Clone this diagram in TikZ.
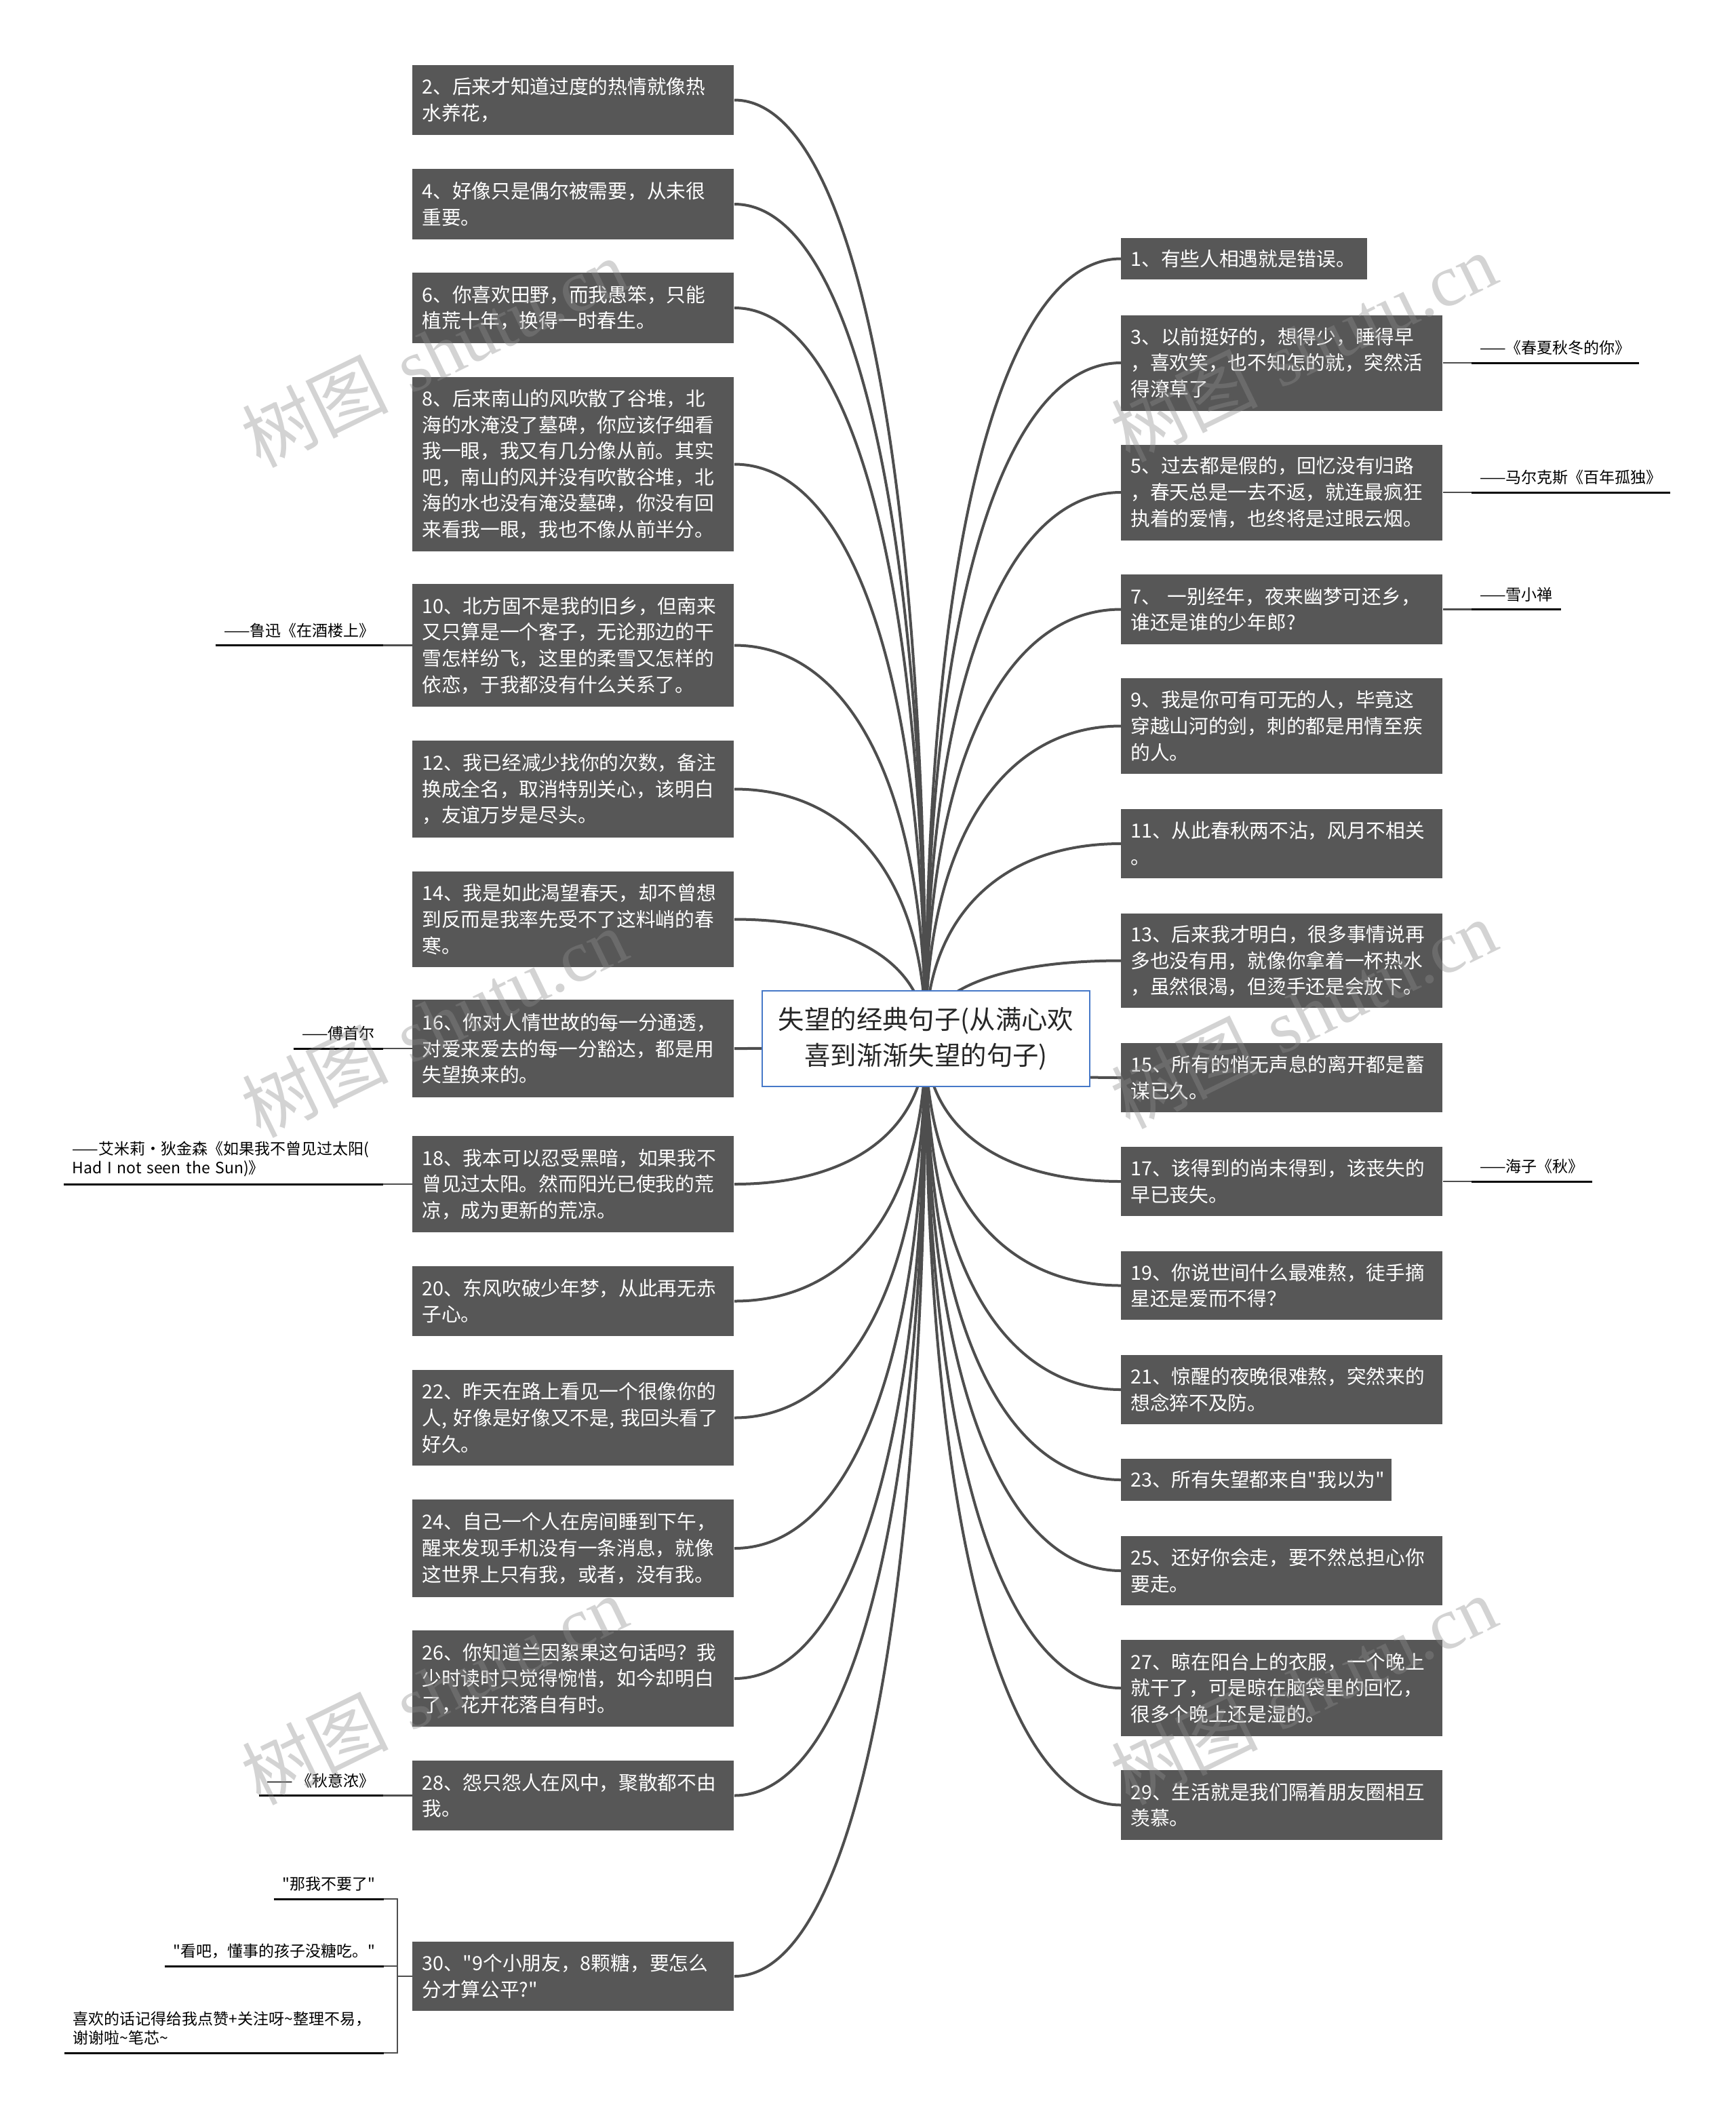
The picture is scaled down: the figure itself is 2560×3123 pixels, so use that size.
\documentclass[tikz,border=0pt]{standalone}
\usepackage{fontspec}
\newfontfamily\cjk{Noto Sans CJK SC}
\newfontfamily\wmlatin{Liberation Serif}
\usetikzlibrary{calc}
\definecolor{boxgray}{RGB}{87,87,87}
\definecolor{linegray}{RGB}{78,78,78}
\definecolor{rootblue}{RGB}{70,120,200}
\definecolor{roottext}{RGB}{38,38,38}
\definecolor{wmgray}{RGB}{140,140,140}
\tikzset{
  qbox/.style={fill=boxgray, text=white, align=left, inner xsep=7pt, inner ysep=0pt, font=\cjk\fontsize{14.35}{19.3}\selectfont, text width=223pt, anchor=west},
  hh/.style={minimum height=#1*0.5pt},
  rootnode/.style={draw=rootblue, line width=1pt, fill=white, text=roottext, align=center, minimum width=241.5pt, minimum height=70.5pt, inner sep=0pt, font=\cjk\fontsize{19.2}{26.5}\selectfont},
  conn/.style={draw=linegray, line width=2pt},
  cconn/.style={draw=linegray, line width=1.2pt},
  uline/.style={draw=black, line width=1.5pt},
  cnote/.style={inner xsep=6pt, inner ysep=5.5pt, font=\cjk\fontsize{11.5}{14}\selectfont, text=black, align=left},
  wmark/.style={text=wmgray, text opacity=0.38, rotate=26, font=\fontsize{54}{54}\selectfont, inner sep=0pt}
}
\newcommand\lconn[1]{\draw[conn] (R) .. controls ($(R)!0.62!(R|-#1.east)$) and ($(#1.east)!0.62!(#1.east-|R)$) .. (#1.east);}
\newcommand\rconn[1]{\draw[conn] (R) .. controls ($(R)!0.62!(R|-#1.west)$) and ($(#1.west)!0.62!(#1.west-|R)$) .. (#1.west);}
\begin{document}
\begin{tikzpicture}[x=0.5pt,y=-0.5pt]
\fill[white] (0,0) rectangle (2560,3123);
\useasboundingbox (0,0) rectangle (2560,3123);
\coordinate (R) at (1365,1531);
% left boxes
\node[qbox,hh=103] (b2) at (608,147.5) {2、后来才知道过度的热情就像热\\水养花，};
\node[qbox,hh=104] (b4) at (608,301) {4、好像只是偶尔被需要，从未很\\重要。};
\node[qbox,hh=104] (b6) at (608,454) {6、你喜欢田野，而我愚笨，只能\\植荒十年，换得一时春生。};
\node[qbox,hh=257] (b8) at (608,684.5) {8、后来南山的风吹散了谷堆，北\\海的水淹没了墓碑，你应该仔细看\\我一眼，我又有几分像从前。其实\\吧，南山的风并没有吹散谷堆，北\\海的水也没有淹没墓碑，你没有回\\来看我一眼，我也不像从前半分。};
\node[qbox,hh=181] (b10) at (608,951.5) {10、北方固不是我的旧乡，但南来\\又只算是一个客子，无论那边的干\\雪怎样纷飞，这里的柔雪又怎样的\\依恋，于我都没有什么关系了。};
\node[qbox,hh=143] (b12) at (608,1163.5) {12、我已经减少找你的次数，备注\\换成全名，取消特别关心，该明白\\，友谊万岁是尽头。};
\node[qbox,hh=141] (b14) at (608,1355.5) {14、我是如此渴望春天，却不曾想\\到反而是我率先受不了这料峭的春\\寒。};
\node[qbox,hh=144] (b16) at (608,1546) {16、你对人情世故的每一分通透，\\对爱来爱去的每一分豁达，都是用\\失望换来的。};
\node[qbox,hh=142] (b18) at (608,1746) {18、我本可以忍受黑暗，如果我不\\曾见过太阳。然而阳光已使我的荒\\凉，成为更新的荒凉。};
\node[qbox,hh=103] (b20) at (608,1918.5) {20、东风吹破少年梦，从此再无赤\\子心。};
\node[qbox,hh=141] (b22) at (608,2090.5) {22、昨天在路上看见一个很像你的\\人, 好像是好像又不是, 我回头看了\\好久。};
\node[qbox,hh=144] (b24) at (608,2283) {24、自己一个人在房间睡到下午，\\醒来发现手机没有一条消息，就像\\这世界上只有我，或者，没有我。};
\node[qbox,hh=142] (b26) at (608,2475) {26、你知道兰因絮果这句话吗？我\\少时读时只觉得惋惜，如今却明白\\了，花开花落自有时。};
\node[qbox,hh=103] (b28) at (608,2647.5) {28、怨只怨人在风中，聚散都不由\\我。};
\node[qbox,hh=102] (b30) at (608,2914) {30、"9个小朋友，8颗糖，要怎么\\分才算公平?"};
% right boxes
\node[qbox,hh=61,text width=167.5pt] (b1) at (1653,381.5) {1、有些人相遇就是错误。};
\node[qbox,hh=141] (b3) at (1653,535) {3、以前挺好的，想得少，睡得早\\，喜欢笑，也不知怎的就，突然活\\得潦草了};
\node[qbox,hh=141] (b5) at (1653,726) {5、过去都是假的，回忆没有归路\\，春天总是一去不返，就连最疯狂\\执着的爱情，也终将是过眼云烟。};
\node[qbox,hh=103] (b7) at (1653,898.5) {7、 一别经年，夜来幽梦可还乡，\\谁还是谁的少年郎?};
\node[qbox,hh=141] (b9) at (1653,1070.5) {9、我是你可有可无的人，毕竟这\\穿越山河的剑，刺的都是用情至疾\\的人。};
\node[qbox,hh=102] (b11) at (1653,1244) {11、从此春秋两不沾，风月不相关\\。};
\node[qbox,hh=139] (b13) at (1653,1416.5) {13、后来我才明白，很多事情说再\\多也没有用，就像你拿着一杯热水\\，虽然很渴，但烫手还是会放下。};
\node[qbox,hh=102] (b15) at (1653,1589) {15、所有的悄无声息的离开都是蓄\\谋已久。};
\node[qbox,hh=102] (b17) at (1653,1742) {17、该得到的尚未得到，该丧失的\\早已丧失。};
\node[qbox,hh=101] (b19) at (1653,1895.5) {19、你说世间什么最难熬，徒手摘\\星还是爱而不得？};
\node[qbox,hh=102] (b21) at (1653,2049) {21、惊醒的夜晚很难熬，突然来的\\想念猝不及防。};
\node[qbox,hh=62,text width=185.5pt] (b23) at (1653,2182) {23、所有失望都来自"我以为"};
\node[qbox,hh=102] (b25) at (1653,2316) {25、还好你会走，要不然总担心你\\要走。};
\node[qbox,hh=142] (b27) at (1653,2489) {27、晾在阳台上的衣服，一个晚上\\就干了，可是晾在脑袋里的回忆，\\很多个晚上还是湿的。};
\node[qbox,hh=103] (b29) at (1653,2661.5) {29、生活就是我们隔着朋友圈相互\\羡慕。};
% main connectors
\foreach \b in {b2,b4,b6,b8,b10,b12,b14,b16,b18,b20,b22,b24,b26,b28,b30} {\lconn{\b}}
\foreach \b in {b1,b3,b5,b7,b9,b11,b13,b15,b17,b19,b21,b23,b25,b27,b29} {\rconn{\b}}
% right notes
\node[cnote,anchor=south west] (c3) at (2170,535) {——《春夏秋冬的你》};
\node[cnote,anchor=south west] (c5) at (2170,726) {——马尔克斯《百年孤独》};
\node[cnote,anchor=south west] (c7) at (2170,898.5) {——雪小禅};
\node[cnote,anchor=south west] (c17) at (2170,1742) {——海子《秋》};
\foreach \b/\c in {b3/c3,b5/c5,b7/c7,b17/c17} {
  \draw[cconn] (\b.east) -- (\c.south west);
  \draw[uline] (\c.south west) -- (\c.south east);
}
% left notes
\node[cnote,anchor=south east] (c10) at (565,951.5) {——鲁迅《在酒楼上》};
\node[cnote,anchor=south east] (c16) at (565,1546) {——傅首尔};
\node[cnote,anchor=south east,text width=223pt] (c18) at (565,1746) { ——艾米莉·狄金森《如果我不曾见过太阳(\\Had I not seen the Sun)》};
\node[cnote,anchor=south east] (c28) at (565,2647.5) {—— 《秋意浓》};
\foreach \b/\c in {b10/c10,b16/c16,b18/c18,b28/c28} {
  \draw[cconn] (\b.west) -- (\c.south east);
  \draw[uline] (\c.south west) -- (\c.south east);
}
\node[cnote,anchor=south east] (c30a) at (566,2800) {"那我不要了"};
\node[cnote,anchor=south east] (c30b) at (566,2899) {"看吧，懂事的孩子没糖吃。"};
\node[cnote,anchor=south east,text width=223pt] (c30c) at (566,3027) {喜欢的话记得给我点赞+关注呀\textasciitilde 整理不易，\\谢谢啦\textasciitilde 笔芯\textasciitilde};
\foreach \c in {c30a,c30b,c30c} {
  \draw[cconn] (b30.west) -- ++(-22,0) |- (\c.south east);
  \draw[uline] (\c.south west) -- (\c.south east);
}
% root
\node[rootnode] (root) at (1365.5,1531.5) {失望的经典句子(从满心欢\\喜到渐渐失望的句子)};
% watermarks
\foreach \p in {(640,520),(1922,512),(640,1508),(1922,1495),(640,2492),(1922,2492)} {
  \node[wmark] at \p {{\cjk 树图} {\wmlatin shutu.cn}};
}
\end{tikzpicture}
\end{document}
